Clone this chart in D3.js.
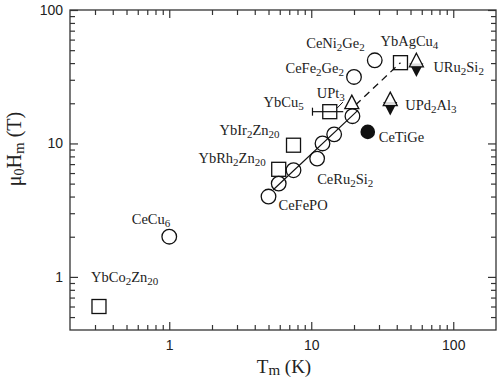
<!DOCTYPE html>
<html>
<head>
<meta charset="utf-8">
<script src="https://cdn.jsdelivr.net/npm/d3@7"></script>
<style>
body { margin: 0; background: #fff; }
svg { display: block; }
</style>
</head>
<body>
<svg id="chart"></svg>
<script>
// open circles (Ce compounds), empty name = no label
var circleNames = ["CeCu6", "CeFePO", "", "", "CeRu2Si2", "", "", "", "CeFe2Ge2", "CeNi2Ge2"];
var circleT = [1.0, 5.0, 5.9, 7.5, 11, 12, 14.5, 19.5, 20, 28];
var circleH = [2.0, 4.0, 5.0, 6.3, 7.7, 10, 11.7, 16, 31.5, 42];

// open squares (Yb compounds)
var squareNames = ["YbCo2Zn20", "YbRh2Zn20", "YbIr2Zn20", "YbCu5", "YbAgCu4"];
var squareT = [0.32, 5.9, 7.5, 13.5, 42.5];
var squareH = [0.6, 6.4, 9.7, 17.3, 40.3];
var squareTerr = [0, 0, 0, 3.3, 0];

// U compounds: open up-triangles and filled down-triangles
var upNames = ["UPt3", "UPd2Al3", "URu2Si2"];
var upT = [19.3, 36, 55];
var upH = [20.4, 21.5, 42];
var downT = [36, 55];
var downH = [18.3, 35.5];

// filled circle
var filledNames = ["CeTiGe"];
var filledT = [25];
var filledH = [12.2];

// guide lines
var solidT = [5.4, 21.3];
var solidH = [4.5, 17.7];
var dashT = [20.5, 42.5];
var dashH = [19.4, 40.3];
var leaderT = [15.2, 16.7];
var leaderH = [18.4, 20.4];

var xMajor = [1, 10, 100];
var xMinor = [0.3, 0.4, 0.5, 0.6, 0.7, 0.8, 0.9, 2, 3, 4, 5, 6, 7, 8, 9, 20, 30, 40, 50, 60, 70, 80, 90];
var yMajor = [1, 10, 100];
var yMinor = [0.5, 0.6, 0.7, 0.8, 0.9, 2, 3, 4, 5, 6, 7, 8, 9, 20, 30, 40, 50, 60, 70, 80, 90];

// label placement relative to marker (dx, dy, anchor) -- layout only
var labelPos = {
  "CeCu6": [1, -13, "end"],
  "CeFePO": [10, 13, "start"],
  "CeRu2Si2": [0, 25, "start"],
  "CeFe2Ge2": [-10, -4, "end"],
  "CeNi2Ge2": [-10, -12, "end"],
  "YbCo2Zn20": [-8, -25, "start"],
  "YbRh2Zn20": [-13, -6, "end"],
  "YbIr2Zn20": [-14, -10, "end"],
  "YbCu5": [-26, -5, "end"],
  "YbAgCu4": [-20, -17, "start"],
  "UPt3": [-7, -4, "end"],
  "UPd2Al3": [15, 11, "start"],
  "URu2Si2": [17, 12, "start"],
  "CeTiGe": [11, 10, "start"]
};

var width = 498, height = 381;
var ink = "#111", axisInk = "#333";

var svg = d3.select("#chart")
  .attr("width", width)
  .attr("height", height)
  .style("background", "#fff");

var x = d3.scaleLog().domain([0.2, 200]).range([70, 496]);
var y = d3.scaleLog().domain([0.4, 100]).range([330, 10]);

// axes: ticks pointing inward on all four sides
function drawAxis(axisFn, scale, major, minor, pos, labels) {
  var g = svg.append("g").attr("transform", pos);
  g.call(axisFn(scale).tickValues(minor).tickSize(-5).tickFormat(""));
  var g2 = svg.append("g").attr("transform", pos);
  g2.call(axisFn(scale).tickValues(major).tickSize(-8).tickPadding(labels ? (axisFn === d3.axisBottom ? 10 : 7) : 0)
    .tickFormat(labels ? d3.format("~g") : ""));
  [g, g2].forEach(function (s) {
    s.select(".domain").remove();
    s.selectAll("line").attr("stroke", axisInk).attr("stroke-width", 1.2);
    s.selectAll("text")
      .attr("fill", "#222")
      .style("font-family", "'Liberation Sans', Arial, sans-serif")
      .style("font-size", "14px");
  });
}

drawAxis(d3.axisBottom, x, xMajor, xMinor, "translate(0,330)", true);
drawAxis(d3.axisTop, x, xMajor, xMinor, "translate(0,10)", false);
drawAxis(d3.axisLeft, y, yMajor, yMinor, "translate(70,0)", true);
drawAxis(d3.axisRight, y, yMajor, yMinor, "translate(496,0)", false);

svg.append("rect")
  .attr("x", 70).attr("y", 10)
  .attr("width", 426).attr("height", 320)
  .attr("fill", "none")
  .attr("stroke", axisInk)
  .attr("stroke-width", 1.3);

// formula text: digits become subscripts
function formula(sel, name, big, small, drop) {
  var parts = name.match(/\d+|\D+/g);
  var down = false;
  parts.forEach(function (p) {
    var sub = /^\d+$/.test(p);
    var t = sel.append("tspan").text(p).attr("font-size", sub ? small : big);
    if (sub && !down) { t.attr("dy", drop); down = true; }
    else if (!sub && down) { t.attr("dy", -drop); down = false; }
  });
}

var serif = "'Liberation Serif', 'Times New Roman', serif";

// lines
var line = d3.line().x(function (d) { return x(d[0]); }).y(function (d) { return y(d[1]); });

svg.append("path")
  .attr("d", line(d3.zip(solidT, solidH)))
  .attr("fill", "none").attr("stroke", ink).attr("stroke-width", 1.2);

svg.append("path")
  .attr("d", line(d3.zip(dashT, dashH)))
  .attr("fill", "none").attr("stroke", ink).attr("stroke-width", 1.3)
  .attr("stroke-dasharray", "7,5");

svg.append("path")
  .attr("d", line(d3.zip(leaderT, leaderH)))
  .attr("fill", "none").attr("stroke", ink).attr("stroke-width", 1);

// error bar on YbCu5
var ebar = svg.append("g").attr("stroke", ink).attr("stroke-width", 1.2);
squareT.forEach(function (t, i) {
  if (!squareTerr[i]) return;
  var x0 = x(t - squareTerr[i]), x1 = x(t + squareTerr[i]), yy = y(squareH[i]);
  ebar.append("line").attr("x1", x0).attr("x2", x1).attr("y1", yy).attr("y2", yy);
  ebar.append("line").attr("x1", x0).attr("x2", x0).attr("y1", yy - 4).attr("y2", yy + 4);
});

// open circles
svg.append("g").selectAll("circle")
  .data(d3.zip(circleT, circleH))
  .enter().append("circle")
  .attr("cx", function (d) { return x(d[0]); })
  .attr("cy", function (d) { return y(d[1]); })
  .attr("r", 7.3)
  .attr("fill", "none")
  .attr("stroke", ink)
  .attr("stroke-width", 1.3);

// filled circle
svg.append("g").selectAll("circle")
  .data(d3.zip(filledT, filledH))
  .enter().append("circle")
  .attr("cx", function (d) { return x(d[0]); })
  .attr("cy", function (d) { return y(d[1]); })
  .attr("r", 7.3)
  .attr("fill", ink);

// squares
svg.append("g").selectAll("rect")
  .data(d3.zip(squareT, squareH))
  .enter().append("rect")
  .attr("x", function (d) { return x(d[0]) - 7; })
  .attr("y", function (d) { return y(d[1]) - 7; })
  .attr("width", 14).attr("height", 14)
  .attr("fill", "none")
  .attr("stroke", ink)
  .attr("stroke-width", 1.3);

// triangles
var triUp = "M0,-7 L7,6.5 L-7,6.5 Z";
var triDown = "M0,7 L7,-6.5 L-7,-6.5 Z";

svg.append("g").selectAll("path")
  .data(d3.zip(downT, downH))
  .enter().append("path")
  .attr("d", triDown)
  .attr("transform", function (d) { return "translate(" + x(d[0]) + "," + y(d[1]) + ")"; })
  .attr("fill", ink);

svg.append("g").selectAll("path")
  .data(d3.zip(upT, upH))
  .enter().append("path")
  .attr("d", triUp)
  .attr("transform", function (d) { return "translate(" + x(d[0]) + "," + y(d[1]) + ")"; })
  .attr("fill", "#fff")
  .attr("fill-opacity", 0.85)
  .attr("stroke", ink)
  .attr("stroke-width", 1.3);

// labels
var labelled = []
  .concat(d3.zip(circleNames, circleT, circleH))
  .concat(d3.zip(squareNames, squareT, squareH))
  .concat(d3.zip(upNames, upT, upH))
  .concat(d3.zip(filledNames, filledT, filledH))
  .filter(function (d) { return d[0] && labelPos[d[0]]; });

var lab = svg.append("g")
  .style("font-family", serif)
  .attr("fill", "#222");

labelled.forEach(function (d) {
  var p = labelPos[d[0]];
  var t = lab.append("text")
    .attr("x", x(d[1]) + p[0])
    .attr("y", y(d[2]) + p[1])
    .attr("text-anchor", p[2]);
  formula(t, d[0], 14.5, 11, 3);
});

// axis titles
var xt = svg.append("text")
  .attr("x", 284).attr("y", 373)
  .attr("text-anchor", "middle")
  .style("font-family", serif)
  .attr("fill", "#222");
xt.append("tspan").text("T").attr("font-size", 19);
xt.append("tspan").text("m").attr("font-size", 15).attr("dy", 2);
xt.append("tspan").text(" (K)").attr("font-size", 19).attr("dy", -2);

var yt = svg.append("text")
  .attr("transform", "translate(21,149) rotate(-90)")
  .attr("text-anchor", "middle")
  .style("font-family", serif)
  .attr("fill", "#222");
yt.append("tspan").text("\u03bc").attr("font-size", 20);
yt.append("tspan").text("0").attr("font-size", 14).attr("dy", 3);
yt.append("tspan").text("H").attr("font-size", 20).attr("dy", -3);
yt.append("tspan").text("m").attr("font-size", 15).attr("dy", 3);
yt.append("tspan").text(" (T)").attr("font-size", 20).attr("dy", -3);
</script>
</body>
</html>
